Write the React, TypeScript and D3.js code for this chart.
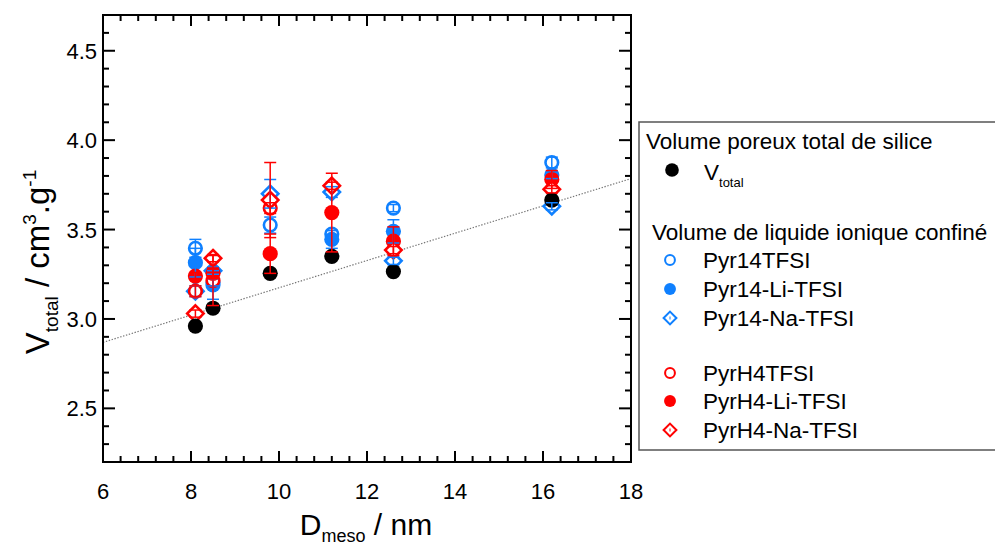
import React from 'react';
import * as d3 from 'd3';

// ---- data ----
const dMeso = [8.1, 8.5, 9.8, 11.2, 12.6, 16.2];
const vTotal = [2.96, 3.06, 3.255, 3.35, 3.265, 3.665];
const pyr14 = [3.395, 3.205, 3.525, 3.475, 3.62, 3.875];
const pyr14Err = [0.05, 0.02, 0.045, 0.02, 0.02, 0.03];
const pyr14Li = [3.315, 3.19, null, 3.445, 3.49, 3.805];
const pyr14LiErr = [0.08, 0.08, null, 0.05, 0.065, 0.02];
const pyr14Na = [3.155, 3.27, 3.7, 3.71, 3.325, 3.63];
const pyr14NaErr = [0.03, 0.02, 0.08, 0.03, 0.02, 0.02];
const pyrH4 = [3.155, 3.215, 3.62, null, null, null];
const pyrH4Err = [0.03, 0.14, 0.03, null, null, null];
const pyrH4Li = [3.24, 3.255, 3.365, 3.595, 3.435, 3.78];
const pyrH4LiErr = [0.02, 0.03, 0.11, 0.22, 0.08, 0.05];
const pyrH4Na = [3.03, 3.34, 3.665, 3.745, 3.385, 3.725];
const pyrH4NaErr = [0.02, 0.02, 0.21, 0.02, 0.02, 0.02];
const fitD = [6, 18];
const fitV = [2.869, 3.785];

const xTicks = [6, 8, 10, 12, 14, 16, 18];
const yTicks = [2.5, 3.0, 3.5, 4.0, 4.5];

const BLUE = '#0f80ff';
const RED = '#ff0000';

const seriesNames = ['Pyr14TFSI', 'Pyr14-Li-TFSI', 'Pyr14-Na-TFSI', 'PyrH4TFSI', 'PyrH4-Li-TFSI', 'PyrH4-Na-TFSI'];
const seriesValues = [pyr14, pyr14Li, pyr14Na, pyrH4, pyrH4Li, pyrH4Na];
const seriesErrors = [pyr14Err, pyr14LiErr, pyr14NaErr, pyrH4Err, pyrH4LiErr, pyrH4NaErr];
const seriesColors = [BLUE, BLUE, BLUE, RED, RED, RED];
const seriesShapes = ['open', 'filled', 'diamond', 'open', 'filled', 'diamond'];

const FONT = 'Liberation Sans, Arial, sans-serif';

function Marker({ shape, color, cx, cy, scale = 1 }: any) {
  if (shape === 'open') {
    return <circle cx={cx} cy={cy} r={6.3 * scale} fill="white" stroke={color} strokeWidth={2.6 * scale} />;
  }
  if (shape === 'filled') {
    return <circle cx={cx} cy={cy} r={7.6 * scale} fill={color} />;
  }
  if (shape === 'black') {
    return <circle cx={cx} cy={cy} r={7.6 * scale} fill="black" />;
  }
  const s = 8.2 * scale;
  return (
    <path
      d={`M${cx},${cy - s}L${cx + s},${cy}L${cx},${cy + s}L${cx - s},${cy}Z`}
      fill="white"
      stroke={color}
      strokeWidth={2.6 * scale}
    />
  );
}

export default function App() {
  const x = d3.scaleLinear().domain([6, 18]).range([103, 631]);
  const y = d3.scaleLinear().domain([2.2, 4.7]).range([462, 15]);
  const [x0, x1] = x.range();
  const [y0, y1] = y.range();

  const xMinor = d3.range(6, 18.001, 0.4);
  const yMinor = d3.range(2.2, 4.7001, 0.1);

  const line = d3
    .line<number>()
    .x((d) => x(d))
    .y((d, i) => y(fitV[i]));

  const legendRows = [
    { y: 260 }, { y: 289 }, { y: 318 }, { y: 373 }, { y: 401 }, { y: 430 },
  ];

  return (
    <svg width={995} height={547} style={{ position: 'absolute', left: 0, top: 0, background: 'white' }} fontFamily={FONT}>
      <rect x={0} y={0} width={995} height={547} fill="white" />
      {/* fit line */}
      <path d={line(fitD) || ''} fill="none" stroke="#777" strokeWidth={1.2} strokeDasharray="1.4,1.6" />

      {/* markers */}
      {seriesValues.map((vals, si) =>
        vals.map((v, i) =>
          v == null ? null : (
            <Marker key={`m${si}-${i}`} shape={seriesShapes[si]} color={seriesColors[si]} cx={x(dMeso[i])} cy={y(v)} />
          )
        )
      )}
      {vTotal.map((v, i) => (
        <Marker key={`b${i}`} shape="black" cx={x(dMeso[i])} cy={y(v)} />
      ))}
      {/* error bars */}
      {seriesValues.map((vals, si) =>
        vals.map((v, i) => {
          const e = seriesErrors[si][i];
          if (v == null || e == null) return null;
          const cx = x(dMeso[i]);
          const ya = y(v + e);
          const yb = y(v - e);
          return (
            <g key={`e${si}-${i}`} stroke={seriesColors[si]} strokeWidth={1.5}>
              <line x1={cx} x2={cx} y1={ya} y2={yb} />
              <line x1={cx - 6} x2={cx + 6} y1={ya} y2={ya} />
              <line x1={cx - 6} x2={cx + 6} y1={yb} y2={yb} />
            </g>
          );
        })
      )}

      {/* frame & ticks */}
      <g stroke="black" strokeWidth={2}>
        {xMinor.map((t, i) => {
          const major = Math.abs(t - Math.round(t / 2) * 2) < 1e-6;
          const len = major ? 11 : 6;
          return (
            <g key={`xt${i}`}>
              <line x1={x(t)} x2={x(t)} y1={y0} y2={y0 - len} />
              <line x1={x(t)} x2={x(t)} y1={y1} y2={y1 + len} />
            </g>
          );
        })}
        {yMinor.map((t, i) => {
          const major = Math.abs(t * 2 - Math.round(t * 2)) < 1e-6;
          const len = major ? 12 : 6;
          return (
            <g key={`yt${i}`}>
              <line x1={x0} x2={x0 + len} y1={y(t)} y2={y(t)} />
              <line x1={x1} x2={x1 - len} y1={y(t)} y2={y(t)} />
            </g>
          );
        })}
        <rect x={x0} y={y1} width={x1 - x0} height={y0 - y1} fill="none" />
      </g>

      {/* tick labels */}
      {xTicks.map((t) => (
        <text key={`xl${t}`} x={x(t)} y={499} fontSize={22} textAnchor="middle">
          {t}
        </text>
      ))}
      {yTicks.map((t) => (
        <text key={`yl${t}`} x={97} y={y(t) + 8} fontSize={22} textAnchor="end">
          {d3.format('.1f')(t)}
        </text>
      ))}

      {/* axis titles */}
      <text x={366} y={535} fontSize={30} textAnchor="middle">
        D<tspan fontSize={18} dy={7}>meso</tspan>
        <tspan fontSize={30} dy={-7}> / nm</tspan>
      </text>
      <text transform="translate(49,262) rotate(-90)" fontSize={33} textAnchor="middle">
        V<tspan fontSize={19} dy={9}>total</tspan>
        <tspan fontSize={33} dy={-9}> / cm</tspan>
        <tspan fontSize={19} dy={-13}>3</tspan>
        <tspan fontSize={33} dy={13}>.g</tspan>
        <tspan fontSize={19} dy={-13}>-1</tspan>
      </text>

      {/* legend */}
      <rect x={639} y={122} width={400} height={328} fill="white" stroke="#555" strokeWidth={1.5} />
      <text x={646} y={148.5} fontSize={22.5}>Volume poreux total de silice</text>
      <Marker shape="black" cx={672} cy={170} scale={0.9} />
      <text x={704} y={180} fontSize={22.5}>
        V<tspan fontSize={13} dy={7}>total</tspan>
      </text>
      <text x={652} y={240} fontSize={22.5}>Volume de liquide ionique confiné</text>
      {seriesNames.map((name, si) => (
        <g key={`lg${si}`}>
          <Marker shape={seriesShapes[si]} color={seriesColors[si]} cx={670} cy={legendRows[si].y} scale={0.78} />
          {seriesShapes[si] === 'diamond' ? (
            <line x1={670} x2={670} y1={legendRows[si].y - 1.5} y2={legendRows[si].y + 1.5} stroke={seriesColors[si]} strokeWidth={1} />
          ) : null}
          <text x={703} y={legendRows[si].y + 8} fontSize={22.5}>
            {name}
          </text>
        </g>
      ))}
    </svg>
  );
}
